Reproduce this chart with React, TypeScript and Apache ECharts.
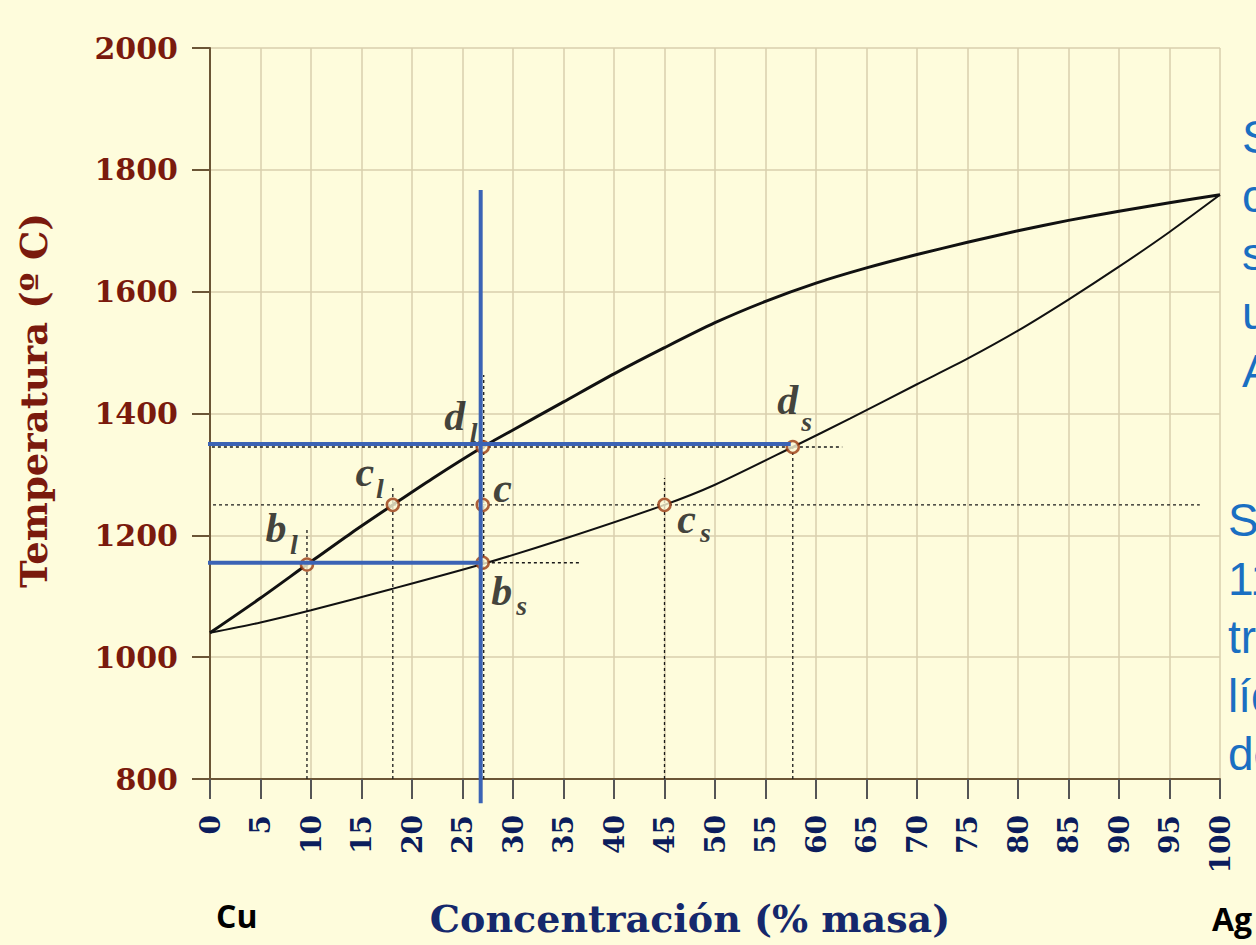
import React, { useEffect, useRef } from "react";
import * as echarts from "echarts";

// Liquidus (upper) and solidus (lower) curves: [concentration %, temperature °C]
const liquidus: [number, number][] = [
  [0, 1040], [5, 1097], [9.6, 1152], [14, 1204], [18.1, 1250], [22, 1293], [27, 1345],
  [30, 1373], [35, 1419], [40, 1465], [45, 1508], [50, 1549], [55, 1584], [60, 1614],
  [65, 1639], [70, 1661], [75, 1681], [80, 1700], [85, 1717], [90, 1732], [95, 1746], [100, 1759],
];
const solidus: [number, number][] = [
  [0, 1040], [5, 1057], [10, 1077], [18, 1112], [27, 1153], [35, 1194], [45, 1250],
  [50, 1283], [57.7, 1345], [63.4, 1392], [70, 1448], [75, 1490], [80, 1536],
  [85, 1587], [90, 1641], [95, 1698], [100, 1759],
];

// Marked points
const pointLetters = ["b", "c", "c", "d", "b", "c", "d"];
const pointSubs = ["l", "l", "", "l", "s", "s", "s"];
const pointX = [9.6, 18.1, 27, 27, 27, 45, 57.7];
const pointT = [1152, 1250, 1250, 1345, 1155, 1250, 1345];

// Dotted guide lines: horizontal [T, xFrom, xTo], vertical [x, TFrom, TTo]
const guideHorizontal: [number, number, number][] = [
  [1345, -1, 62.6], [1250, 0.3, 98], [1155, -1.2, 36.6],
];
const guideVertical: [number, number, number][] = [
  [9.6, 800, 1212], [18.1, 800, 1278], [27.1, 800, 1463], [45, 800, 1294], [57.7, 800, 1345],
];
// Blue highlight lines
const blueVertical: [number, number, number][] = [[26.8, 760, 1767]];
const blueHorizontal: [number, number, number][] = [[1350, -1.2, 57.5], [1155, -1.2, 26.8]];

// Texts
const yTitle = "Temperatura (º C)";
const xTitle = "Concentración (% masa)";
const rightBlock1 = ["S", "c", "s", "u", "A"];
const rightBlock2 = ["S", "11", "tr", "líq", "de"];

// label offsets (styling)
const letterOffsets: [number, number][] = [
  [-31, -37], [-28, -33], [20, -17], [-28, -31], [19, 28], [22, 14], [-5, -47],
];
const subOffsets: [number, number][] = [
  [-13, -20], [-13, -16], [0, 0], [-9, -15], [39, 43], [41, 28], [14, -26],
];

export default function App() {
  const ref = useRef<HTMLDivElement>(null);
  useEffect(() => {
    if (!ref.current) return;
    const chart = echarts.init(ref.current, undefined, { renderer: "svg" });
    const dotted = {
      color: "#1a1a1a",
      width: 1.3,
      type: [3, 3] as any,
    };
    const series: any[] = [];
    guideHorizontal.forEach(([t, a, b]) =>
      series.push({
        type: "line", data: [[a, t], [b, t]], symbol: "none", clip: false, silent: true,
        lineStyle: dotted, z: 2,
      })
    );
    guideVertical.forEach(([x, a, b]) =>
      series.push({
        type: "line", data: [[x, a], [x, b]], symbol: "none", clip: false, silent: true,
        lineStyle: dotted, z: 2,
      })
    );
    series.push({
      type: "line", data: liquidus, smooth: 0.25, symbol: "none",
      lineStyle: { color: "#111", width: 3 }, z: 3,
    });
    series.push({
      type: "line", data: solidus, smooth: 0.25, symbol: "none",
      lineStyle: { color: "#111", width: 2 }, z: 3,
    });
    series.push({
      type: "scatter",
      symbol: "circle",
      symbolSize: 12,
      itemStyle: { color: "#fdf7d6", borderColor: "#9a3a10", borderWidth: 2.5 },
      data: pointX.map((x, i) => ({
        value: [x, pointT[i]],
        label: { offset: letterOffsets[i] },
      })),
      label: {
        show: true,
        position: "inside",
        formatter: (p: any) => pointLetters[p.dataIndex],
        fontFamily: "Liberation Serif",
        fontWeight: "bold",
        fontStyle: "italic",
        fontSize: 42,
        color: "#111",
      },
      z: 4,
    });
    series.push({
      type: "scatter",
      symbol: "circle",
      symbolSize: 0.1,
      itemStyle: { color: "rgba(0,0,0,0)" },
      data: pointX.map((x, i) => ({
        value: [x, pointT[i]],
        label: { offset: subOffsets[i] },
      })),
      label: {
        show: true,
        position: "inside",
        formatter: (p: any) => pointSubs[p.dataIndex],
        fontFamily: "Liberation Serif",
        fontWeight: "bold",
        fontStyle: "italic",
        fontSize: 28,
        color: "#111",
      },
      z: 4,
    });
    const blue = { color: "#3b63b5", width: 4, type: "solid" };
    blueVertical.forEach(([x, a, b]) =>
      series.push({
        type: "line", data: [[x, a], [x, b]], symbol: "none", clip: false, silent: true,
        lineStyle: blue, z: 6,
      })
    );
    blueHorizontal.forEach(([t, a, b]) =>
      series.push({
        type: "line", data: [[a, t], [b, t]], symbol: "none", clip: false, silent: true,
        lineStyle: blue, z: 6,
      })
    );

    const rightText = (lines: string[], x: number, y0: number) =>
      lines.map((s, i) => ({
        type: "text",
        x,
        y: y0 + i * 58.5,
        z: 10,
        style: {
          text: s,
          fill: "#1a6fc2",
          font: 'normal 46px "Liberation Sans", Arial, sans-serif',
          verticalAlign: "middle",
          align: "left",
        },
      }));

    chart.setOption({
      animation: false,
      backgroundColor: "#fefcdc",
      grid: { left: 210, right: 36, top: 48, bottom: 166 },
      xAxis: {
        type: "value",
        min: 0,
        max: 100,
        interval: 5,
        name: xTitle,
        nameLocation: "middle",
        nameGap: 120,
        nameTextStyle: {
          fontFamily: "DejaVu Serif",
          fontWeight: "bold",
          fontSize: 38,
          color: "#15286c",
          padding: [0, 50, 0, 0],
        },
        axisLine: { show: true, onZero: false, lineStyle: { color: "#6b5536", width: 2 } },
        axisTick: { show: true, length: 20, lineStyle: { color: "#555", width: 2 } },
        axisLabel: {
          rotate: 90,
          margin: 36,
          fontFamily: "DejaVu Serif",
          fontWeight: "bold",
          fontSize: 28,
          color: "#0c1d5c",
          formatter: (v: number) => String(v),
        },
        splitLine: { show: true, lineStyle: { color: "#d8cfae", width: 1.5 } },
      },
      yAxis: {
        type: "value",
        min: 800,
        max: 2000,
        interval: 200,
        name: yTitle,
        nameLocation: "middle",
        nameRotate: 90,
        nameGap: 158,
        nameTextStyle: {
          fontFamily: "DejaVu Serif",
          fontWeight: "bold",
          fontSize: 37,
          color: "#7a1a0d",
          padding: [0, 0, 0, 26],
        },
        axisLine: { show: true, lineStyle: { color: "#6b5536", width: 2 } },
        axisTick: { show: true, length: 18, lineStyle: { color: "#6b5536", width: 2 } },
        axisLabel: {
          margin: 32,
          fontFamily: "DejaVu Serif",
          fontWeight: "bold",
          fontSize: 30,
          color: "#7a1a0d",
          formatter: (v: number) => String(v),
        },
        splitLine: { show: true, lineStyle: { color: "#d8cfae", width: 1.5 } },
      },
      graphic: [
        ...rightText(rightBlock1, 1242, 137),
        ...rightText(rightBlock2, 1228, 520),
        {
          type: "text", x: 216, y: 915, z: 10,
          style: {
            text: "Cu", fill: "#000", verticalAlign: "middle",
            font: 'bold 32px "Open Sans", "Liberation Sans", sans-serif',
          },
        },
        {
          type: "text", x: 1212, y: 918, z: 10,
          style: {
            text: "Ag", fill: "#000", verticalAlign: "middle",
            font: 'bold 32px "Open Sans", "Liberation Sans", sans-serif',
          },
        },
      ],
      series,
    });
    return () => chart.dispose();
  }, []);
  return (
    <div
      ref={ref}
      style={{ position: "absolute", left: 0, top: 0, width: 1256, height: 945 }}
    />
  );
}
